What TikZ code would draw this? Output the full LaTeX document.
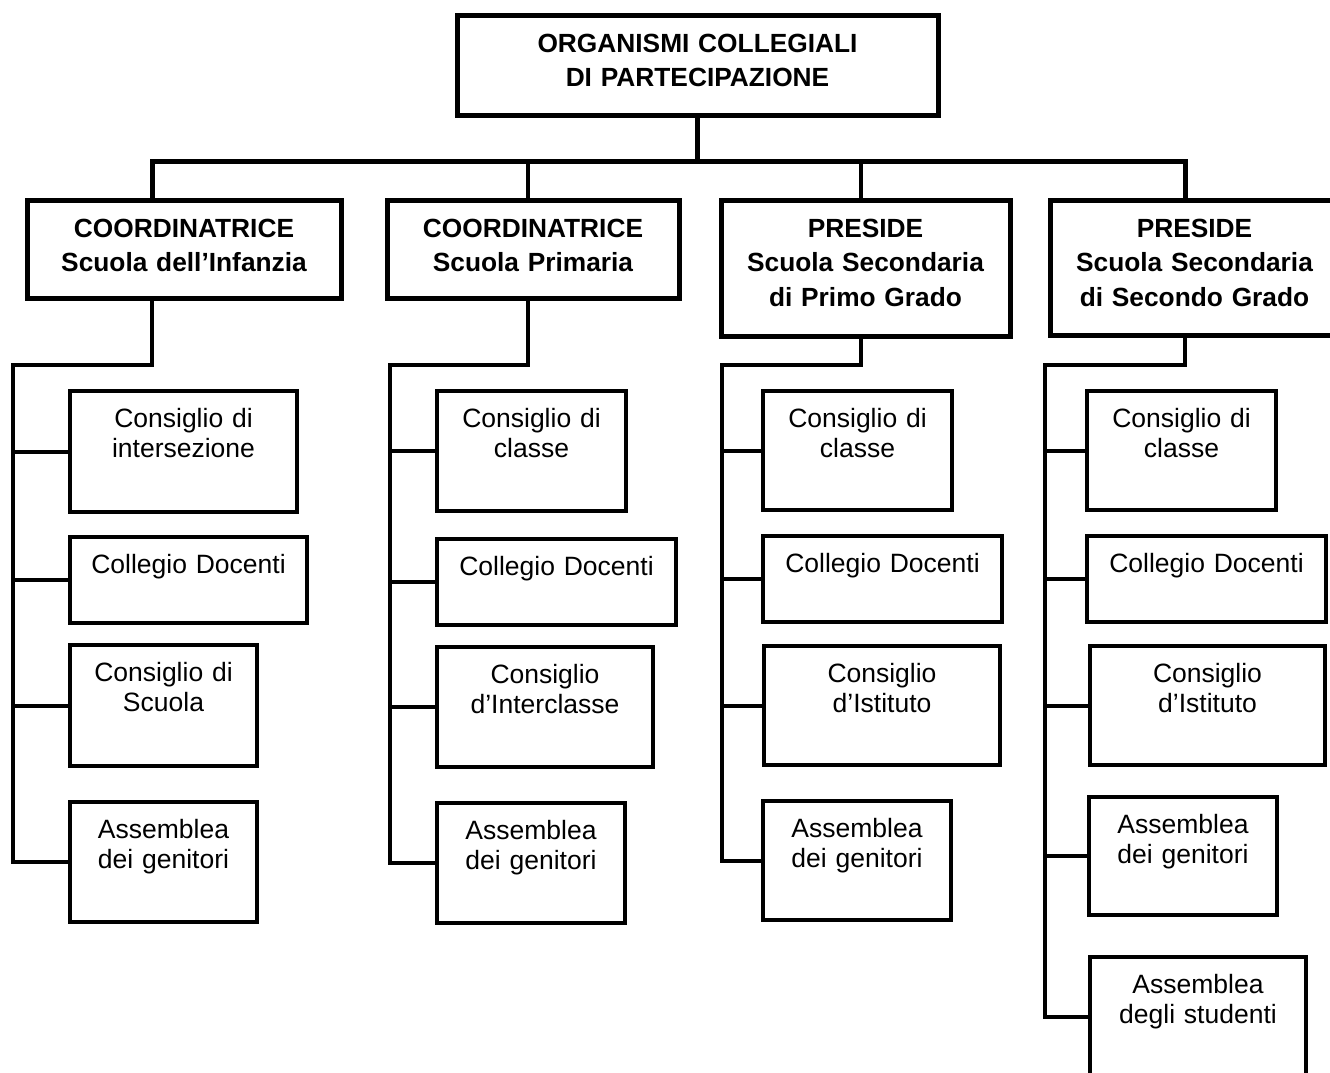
\documentclass[tikz,border=0pt]{standalone}
\usepackage{fontspec}
\setmainfont{Liberation Sans}
\usepackage{tikz}

\newcommand{\kidfont}{\fontsize{26.5}{30.75}\selectfont}
\newcommand{\headfont}{\bfseries\fontsize{26.3}{34.5}\selectfont}

\tikzset{
  head/.style={draw, line width=5pt, anchor=north west, inner sep=0pt, outer sep=0pt,
    align=center, font=\headfont, text height=37pt},
  kid/.style={draw, line width=4pt, anchor=north west, inner sep=0pt, outer sep=0pt,
    align=center, font=\kidfont, text height=36pt},
  wire/.style={line width=4pt},
  bus/.style={line width=5pt},
}

\begin{document}
\begin{tikzpicture}[x=1pt, y=-1pt]
  \useasboundingbox (0,0) rectangle (1330,1072);

  % Define nodes
  \node[head, text width=481pt, text depth=63pt] (org) at (457,15) {ORGANISMI COLLEGIALI\\DI PARTECIPAZIONE};

  \node[head, text width=314pt, text depth=61pt] (inf) at (27,200) {COORDINATRICE\\Scuola dell’Infanzia};
  \node[head, text width=292pt, text depth=61pt] (pri) at (387,200) {COORDINATRICE\\Scuola Primaria};
  \node[head, text width=289pt, text depth=99pt] (sec1) at (721,200) {PRESIDE\\Scuola Secondaria\\di Primo Grado};
  \node[head, text width=289pt, text depth=98pt] (sec2) at (1050,200) {PRESIDE\\Scuola Secondaria\\di Secondo Grado};

  \node[kid, text width=227pt, text depth=85pt] (inter) at (70,391) {Consiglio di\\intersezione};
  \node[kid, text width=237pt, text depth=50pt] (doc1) at (70,537) {Collegio Docenti};
  \node[kid, text width=187pt, text depth=85pt] (scuola) at (70,645) {Consiglio di\\Scuola};
  \node[kid, text width=187pt, text depth=84pt] (gen1) at (70,802) {Assemblea\\dei genitori};

  \node[kid, text width=189pt, text depth=84pt] (classe2) at (437,391) {Consiglio di\\classe};
  \node[kid, text width=239pt, text depth=50pt] (doc2) at (437,539) {Collegio Docenti};
  \node[kid, text width=216pt, text depth=84pt] (intercl) at (437,647) {Consiglio\\d’Interclasse};
  \node[kid, text width=188pt, text depth=84pt] (gen2) at (437,803) {Assemblea\\dei genitori};

  \node[kid, text width=189pt, text depth=83pt] (classe3) at (763,391) {Consiglio di\\classe};
  \node[kid, text width=239pt, text depth=50pt] (doc3) at (763,536) {Collegio Docenti};
  \node[kid, text width=236pt, text depth=83pt] (ist3) at (764,646) {Consiglio\\d’Istituto};
  \node[kid, text width=188pt, text depth=83pt] (gen3) at (763,801) {Assemblea\\dei genitori};

  \node[kid, text width=189pt, text depth=83pt] (classe4) at (1087,391) {Consiglio di\\classe};
  \node[kid, text width=239pt, text depth=50pt] (doc4) at (1087,536) {Collegio Docenti};
  \node[kid, text width=235pt, text depth=83pt] (ist4) at (1090,646) {Consiglio\\d’Istituto};
  \node[kid, text width=188pt, text depth=82pt] (gen4) at (1089,797) {Assemblea\\dei genitori};
  \node[kid, text width=216pt, text depth=84pt] (stud) at (1090,957) {Assemblea\\degli studenti};

  % Junctions
  \coordinate (j1) at (152,161);
  \coordinate (j2) at (528,161);
  \coordinate (j3) at (861,161);
  \coordinate (j4) at (1185,161);
  \coordinate (t1) at (13,365);
  \coordinate (t2) at (390,365);
  \coordinate (t3) at (722,365);
  \coordinate (t4) at (1045,365);

  % Connect the nodes
  \draw[bus] (org.south) -- (org.south |- j1);
  \draw[bus] (inf.north -| j1) |- (j4) -- (sec2.north -| j4);
  \draw[wire] (j2) -- (pri.north -| j2);
  \draw[wire] (j3) -- (sec1.north -| j3);

  \draw[wire] (inf.south -| j1) |- (t1) |- (gen1.west);
  \foreach \k in {inter,doc1,scuola} \draw[wire] (t1 |- \k.west) -- (\k.west);

  \draw[wire] (pri.south -| j2) |- (t2) |- (gen2.west);
  \foreach \k in {classe2,doc2,intercl} \draw[wire] (t2 |- \k.west) -- (\k.west);

  \draw[wire] (sec1.south -| j3) |- (t3) |- (gen3.west);
  \foreach \k in {classe3,doc3,ist3} \draw[wire] (t3 |- \k.west) -- (\k.west);

  \draw[wire] (sec2.south -| j4) |- (t4) |- (stud.west);
  \foreach \k in {classe4,doc4,ist4,gen4} \draw[wire] (t4 |- \k.west) -- (\k.west);

\end{tikzpicture}
\end{document}
